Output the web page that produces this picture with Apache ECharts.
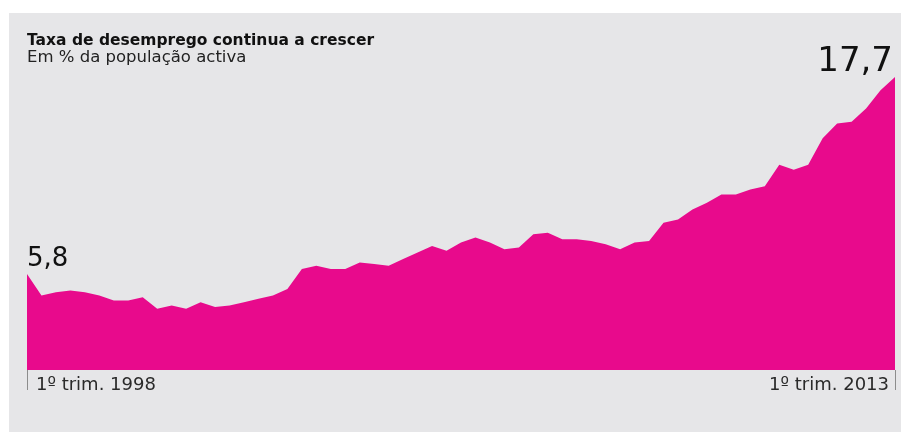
<!DOCTYPE html>
<html>
<head>
<meta charset="utf-8">
<script src="https://cdn.jsdelivr.net/npm/echarts@6/dist/echarts.min.js"></script>
<style>
  html, body { margin: 0; padding: 0; background: #ffffff; }
  #chart { position: absolute; left: 9px; top: 13px; width: 892px; height: 419px; }
</style>
</head>
<body>
<div id="chart"></div>
<script>
// Quarterly unemployment rate, 1st quarter 1998 to 1st quarter 2013 (% of active population)
const quarters = [];
for (let y = 1998; y <= 2013; y++) {
  for (let q = 1; q <= 4; q++) {
    if (y === 2013 && q > 1) break;
    quarters.push(q + 'º trim. ' + y);
  }
}

const rates = [
  5.8, 4.5, 4.7, 4.8, 4.7, 4.5, 4.2, 4.2, 4.4, 3.7,
  3.9, 3.7, 4.1, 3.8, 3.9, 4.1, 4.3, 4.5, 4.9, 6.1,
  6.3, 6.1, 6.1, 6.5, 6.4, 6.3, 6.7, 7.1, 7.5, 7.2,
  7.7, 8.0, 7.7, 7.3, 7.4, 8.2, 8.3, 7.9, 7.9, 7.8,
  7.6, 7.3, 7.7, 7.8, 8.9, 9.1, 9.7, 10.1, 10.6, 10.6,
  10.9, 11.1, 12.4, 12.1, 12.4, 14.0, 14.9, 15.0, 15.8, 16.9,
  17.7
];

const titleText = 'Taxa de desemprego continua a crescer';
const subtitleText = 'Em % da população activa';

const FONT = '"DejaVu Sans", sans-serif';
const last = rates.length - 1;

const fmt = v => String(v).replace('.', ',');

// Only the first and last quarters carry a value label
const seriesData = rates.map((v, i) => {
  if (i === 0) {
    return { value: v, label: { show: true, position: 'top', align: 'left', distance: 1, fontSize: 26 } };
  }
  if (i === last) {
    return { value: v, label: { show: true, position: 'top', align: 'right', offset: [-2, 0], distance: -3, fontSize: 34 } };
  }
  return v;
});

const chart = echarts.init(document.getElementById('chart'), null, { renderer: 'canvas' });

chart.setOption({
  backgroundColor: '#e6e6e8',
  animation: false,
  title: {
    text: titleText,
    subtext: subtitleText,
    left: 18,
    top: 19,
    itemGap: 0,
    padding: 0,
    textStyle: { fontFamily: FONT, fontSize: 15.5, fontWeight: 'bold', color: '#111111', lineHeight: 17 },
    subtextStyle: { fontFamily: FONT, fontSize: 16.5, fontWeight: 'normal', color: '#222222', lineHeight: 17 }
  },
  grid: { left: 18, right: 6, top: 26, bottom: 62 },
  xAxis: {
    type: 'category',
    data: quarters,
    boundaryGap: false,
    axisLine: { show: false },
    axisTick: {
      show: true,
      length: 20,
      interval: i => i === 0 || i === last,
      lineStyle: { color: '#8c8c8c', width: 1 }
    },
    axisLabel: {
      interval: i => i === 0 || i === last,
      margin: 6,
      fontFamily: FONT,
      fontSize: 18,
      color: '#2a2a2a',
      formatter: (val, i) => i === 0 ? '{l|' + val + '}' : '{r|' + val + '}',
      rich: {
        l: { align: 'left', padding: [0, 0, 0, 9], fontFamily: FONT, fontSize: 18, color: '#2a2a2a' },
        r: { align: 'right', padding: [0, 6, 0, 0], fontFamily: FONT, fontSize: 18, color: '#2a2a2a' }
      },
      alignMinLabel: 'left',
      alignMaxLabel: 'right'
    }
  },
  yAxis: {
    type: 'value',
    min: 0,
    max: 20,
    show: false,
    splitLine: { show: false }
  },
  series: [{
    type: 'line',
    data: seriesData,
    symbol: 'circle',
    symbolSize: 1,
    showSymbol: true,
    itemStyle: { color: 'rgba(0,0,0,0)' },
    lineStyle: { width: 0 },
    areaStyle: { color: '#e80a8c', opacity: 1 },
    label: {
      show: false,
      fontFamily: FONT,
      color: '#111111',
      formatter: p => fmt(p.value)
    }
  }]
});
</script>
</body>
</html>
